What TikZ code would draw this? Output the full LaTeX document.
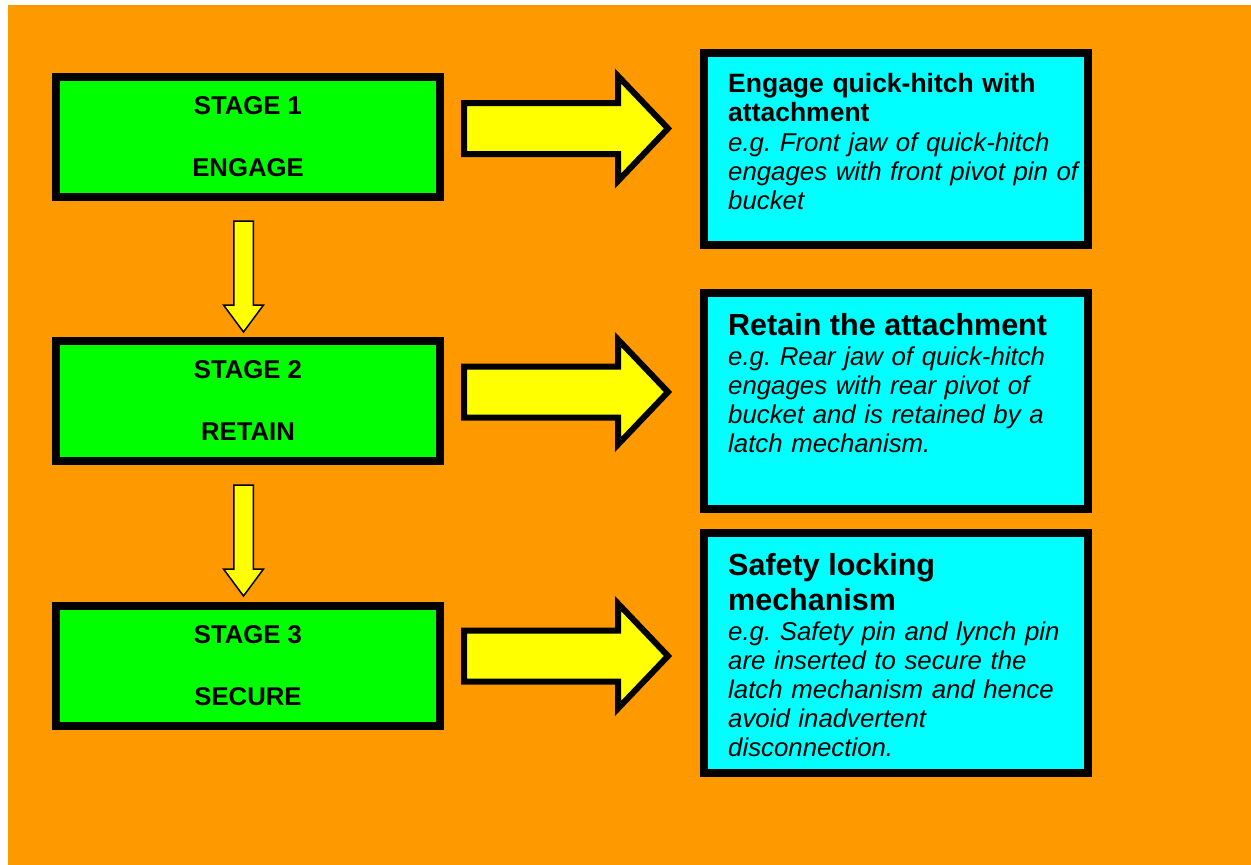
\documentclass[tikz,border=0pt]{standalone}
\usepackage{fontspec}
\setmainfont{Liberation Sans}
\frenchspacing
\definecolor{bgorange}{HTML}{FF9900}
\definecolor{stagegreen}{HTML}{00FF00}
\definecolor{desccyan}{HTML}{00FFFF}
\definecolor{arrowyellow}{HTML}{FFFF00}
\begin{document}
\begin{tikzpicture}[x=1pt,y=-1pt,
  stagebox/.style={draw=black, line width=8pt, fill=stagegreen, minimum width=384pt,
    minimum height=120pt, inner sep=0pt, align=center,
    font=\bfseries\fontsize{25.7}{62}\selectfont},
  descbox/.style={draw=black, line width=8pt, fill=desccyan, minimum width=384pt, inner sep=0pt},
  desctext/.style={anchor=north west, inner sep=0pt, text width=370pt, align=left,
    font=\fontsize{25.8}{29}\selectfont\frenchspacing},
  bigarrow/.style={draw=black, line width=6pt, fill=arrowyellow, line join=miter},
  smallarrow/.style={draw=black, line width=1.5pt, fill=arrowyellow, line join=miter},
  rarrow/.pic={\draw[bigarrow] (3,-25.5) -- (157,-25.5) -- (157,-52.5) -- (207,0)
      -- (157,52.5) -- (157,25.5) -- (3,25.5) -- cycle;},
  darrow/.pic={\draw[smallarrow] (-9.75,0) -- (9.75,0) -- (9.75,84) -- (20,84) -- (0,111)
      -- (-20,84) -- (-9.75,84) -- cycle;}
]
\useasboundingbox (0,0) rectangle (1251,865);
\fill[white] (0,0) rectangle (1251,865);
\fill[bgorange] (8,5) rectangle (1251,865);

% stage boxes
\node[stagebox] (s1) at (248,137) {STAGE 1\\ENGAGE};
\node[stagebox] (s2) at (248,401) {STAGE 2\\RETAIN};
\node[stagebox] (s3) at (248,665.5) {STAGE 3\\SECURE};

% description boxes
\node[descbox, minimum height=192pt] (d1) at (896,149) {};
\node[descbox, minimum height=216pt] (d2) at (896,401) {};
\node[descbox, minimum height=240pt] (d3) at (896,653) {};

\node[desctext] (t1) at (728,73) {{\bfseries\fontsize{26.5}{29}\selectfont Engage quick-hitch with\\attachment}\\[1pt]
  {\itshape e.g. Front jaw of quick-hitch\\engages with front pivot pin of\\bucket}};
\node[desctext] (t2) at (728,313) {{\bfseries\fontsize{30.5}{29}\selectfont Retain the attachment}\\[1pt]
  {\itshape e.g. Rear jaw of quick-hitch\\engages with rear pivot of\\bucket and is retained by a\\latch mechanism.}};
\node[desctext] (t3) at (728,553) {{\bfseries\fontsize{30.5}{29}\selectfont Safety locking\\[6pt]mechanism}\\[1pt]
  {\itshape e.g. Safety pin and lynch pin\\are inserted to secure the\\latch mechanism and hence\\avoid inadvertent\\disconnection.}};

% block arrows
\pic (r1) at (461,128.5) {rarrow};
\pic (r2) at (461,392) {rarrow};
\pic (r3) at (461,656) {rarrow};
\pic (v1) at (243.5,221) {darrow};
\pic (v2) at (243.5,485) {darrow};
\end{tikzpicture}
\end{document}
